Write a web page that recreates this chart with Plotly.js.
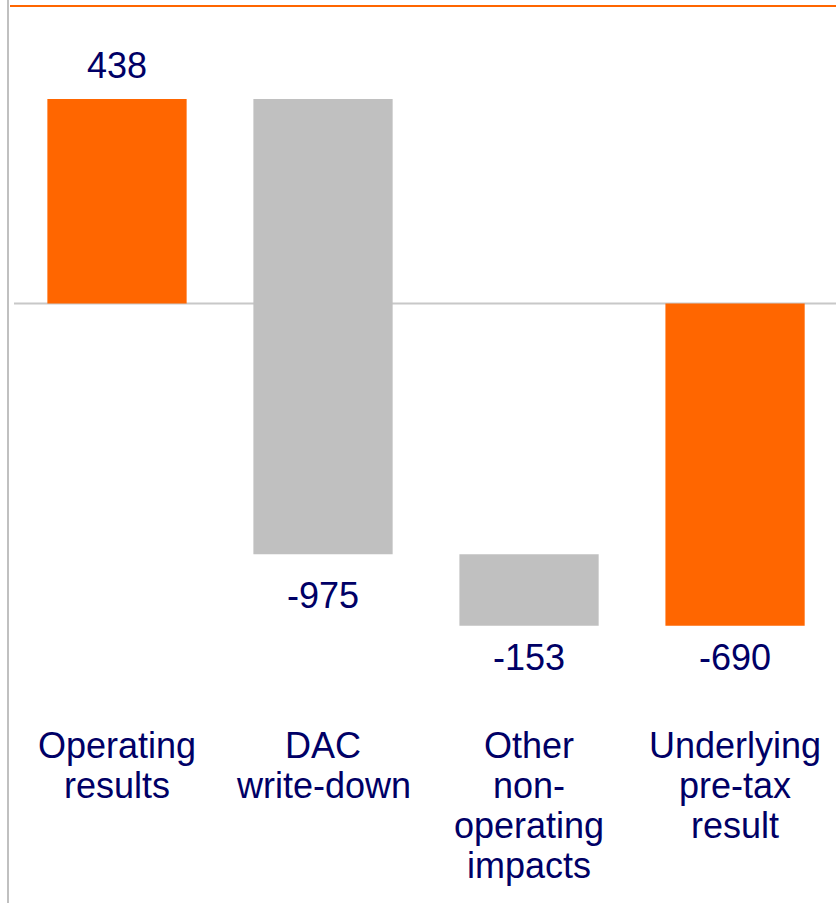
<!DOCTYPE html>
<html>
<head>
<meta charset="utf-8">
<script src="https://cdn.plot.ly/plotly-3.0.1.min.js"></script>
<style>html,body{margin:0;padding:0;background:#fff;}#chart{width:836px;height:903px;}</style>
</head>
<body>
<div id="chart"></div>
<script>
// Data
const categories = ["Operating results", "DAC write-down", "Other non-operating impacts", "Underlying pre-tax result"];
const categoryLines = [["Operating", "results"], ["DAC", "write-down"], ["Other", "non-", "operating", "impacts"], ["Underlying", "pre-tax", "result"]];
const values = [438, -975, -153, -690];
const measures = ["absolute", "relative", "relative", "total"];
const valueLabels = ["438", "-975", "-153", "-690"];

// Style
const ORANGE = "#ff6600";
const GRAY = "#c0c0c0";
const NAVY = "#000066";
const FONT = "Arial, 'Liberation Sans', sans-serif";
const labelShift = [33, -41, -32, -32];

// Bar ends (cumulative) for label anchoring
const ends = [];
let run = 0;
for (let i = 0; i < values.length; i++) {
  if (measures[i] === "absolute") run = values[i];
  else if (measures[i] === "relative") run += values[i];
  ends.push(run);
}

const trace = {
  type: "waterfall",
  x: categories,
  y: values.map((v, i) => measures[i] === "total" ? 0 : v),
  measure: measures,
  increasing: {marker: {color: ORANGE}},
  decreasing: {marker: {color: GRAY}},
  totals: {marker: {color: ORANGE}},
  connector: {visible: false},
  hoverinfo: "none",
  textinfo: "none"
};

const annotations = [];
categories.forEach((c, i) => {
  annotations.push({
    x: c, y: ends[i], xref: "x", yref: "y",
    text: valueLabels[i], showarrow: false,
    yanchor: "middle", yshift: labelShift[i],
    font: {family: FONT, size: 36, color: NAVY}
  });
  categoryLines[i].forEach((line, j) => {
    annotations.push({
      x: c, y: 1, xref: "x", yref: "paper",
      text: line, showarrow: false,
      yanchor: "middle", yshift: -739 - 40 * j,
      font: {family: FONT, size: 36, color: NAVY}
    });
  });
});

const layout = {
  width: 836, height: 903,
  margin: {l: 14, r: 0, t: 6, b: 0},
  paper_bgcolor: "#fff", plot_bgcolor: "#fff",
  showlegend: false,
  waterfallgap: 0.324,
  xaxis: {type: "category", range: [-0.5, 3.49], showticklabels: false, showgrid: false, zeroline: false, showline: false, ticks: ""},
  yaxis: {range: [-1284, 637], showticklabels: false, showgrid: false, zeroline: false, showline: false, ticks: ""},
  annotations: annotations,
  shapes: [
    {type: "line", xref: "paper", yref: "y", x0: 0, x1: 1, y0: 0, y1: 0, layer: "below", line: {color: "#c8c8c8", width: 2}},
    {type: "line", xref: "paper", yref: "paper", x0: -6/822, x1: -6/822, y0: -0.01, y1: 1 + 7/897, line: {color: GRAY, width: 2}},
    {type: "line", xref: "paper", yref: "paper", x0: -4/822, x1: 1, y0: 1, y1: 1, line: {color: ORANGE, width: 2}}
  ]
};

Plotly.newPlot("chart", [trace], layout, {displayModeBar: false, staticPlot: true});
</script>
</body>
</html>
